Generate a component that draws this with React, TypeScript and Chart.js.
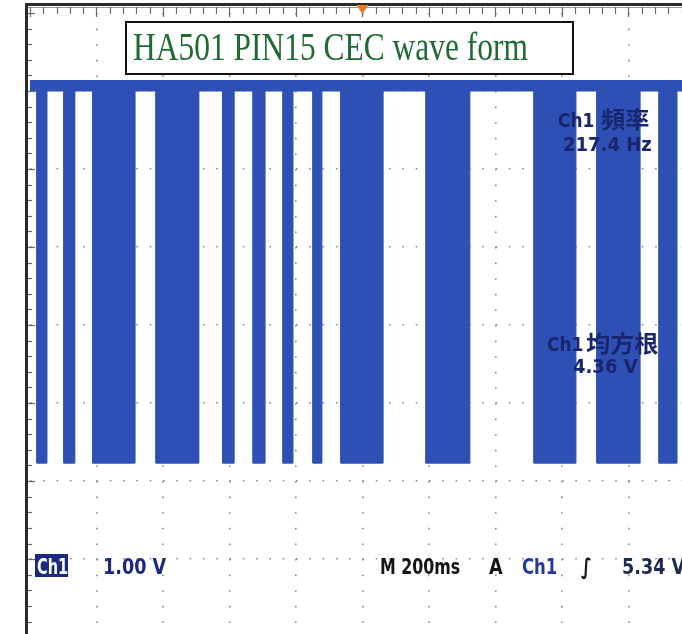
import React, { useEffect, useRef } from "react";
import { Chart, registerables } from "chart.js";

Chart.register(...registerables);

// ---- data (time in ms, level in volts relative to screen centre) ----
const timeMaxMs = 1961;
const divisionMs = 200;
const burstStartMs = [21, 102, 189, 379, 580, 671, 761, 851, 935, 1191, 1516, 1705, 1892];
const burstEndMs = [51, 135, 316, 508, 614, 707, 791, 878, 1062, 1323, 1642, 1835, 1946];
const highLevelV = 3.14;
const idleLowV = 3.0;
const burstLowV = -1.77;
const yTopV = 4;
const yBottomV = -3.96;
const triggerMs = 1000;

const titleText = "HA501 PIN15 CEC wave form";
const freqName = "頻率";
const freqValue = "217.4 Hz";
const rmsName = "均方根";
const rmsValue = "4.36 V";
const chScale = "1.00 V";
const timeBase = "M 200ms";
const trigMode = "A";
const trigSource = "Ch1";
const trigLevel = "5.34 V";

const BLUE = "#2E50B4";

function buildWave() {
  const pts: { x: number; y: number }[] = [{ x: 0, y: idleLowV }];
  burstStartMs.forEach((s, i) => {
    const e = burstEndMs[i];
    pts.push({ x: s, y: idleLowV }, { x: s, y: burstLowV }, { x: e, y: burstLowV }, { x: e, y: idleLowV });
  });
  pts.push({ x: timeMaxMs, y: idleLowV });
  return pts;
}

function txt(ctx: CanvasRenderingContext2D, s: string, x: number, y: number, font: string, color: string, sx = 1) {
  ctx.save();
  ctx.font = font;
  ctx.fillStyle = color;
  ctx.textBaseline = "alphabetic";
  ctx.textAlign = "left";
  ctx.translate(x, y);
  ctx.scale(sx, 1);
  ctx.fillText(s, 0, 0);
  ctx.restore();
}

const overlay = {
  id: "scopeOverlay",
  afterDraw(chart: any) {
    const ctx: CanvasRenderingContext2D = chart.ctx;
    const xs = chart.scales.x;
    const ys = chart.scales.y;
    const W = chart.width;
    const H = chart.height;
    ctx.save();
    // top border & ruler
    ctx.fillStyle = "#2a2a2a";
    ctx.fillRect(25, 3, W - 25, 3);
    ctx.fillStyle = "#9a9a9a";
    ctx.fillRect(28, 7, W - 28, 1);
    ctx.strokeStyle = "#6a6a6a";
    ctx.lineWidth = 1.2;
    for (let i = 0; ; i++) {
      const px = xs.getPixelForValue(i * (divisionMs / 5));
      if (px > W) break;
      ctx.beginPath();
      ctx.moveTo(Math.round(px) + 0.5, 7);
      ctx.lineTo(Math.round(px) + 0.5, i % 5 === 0 ? 17 : 14);
      ctx.stroke();
    }
    // left border & ruler
    ctx.fillStyle = "#2a2a2a";
    ctx.fillRect(25, 3, 3, H - 3);
    for (let i = 0; ; i++) {
      const py = ys.getPixelForValue(yTopV - i * 0.2);
      if (py > H) break;
      ctx.beginPath();
      ctx.moveTo(28, Math.round(py) + 0.5);
      ctx.lineTo(i % 5 === 0 ? 35 : 32, Math.round(py) + 0.5);
      ctx.stroke();
    }
    // trigger position marker
    const tx = xs.getPixelForValue(triggerMs);
    ctx.fillStyle = "#E8782A";
    ctx.beginPath();
    ctx.moveTo(tx - 6, 5);
    ctx.lineTo(tx + 6, 5);
    ctx.lineTo(tx, 14);
    ctx.closePath();
    ctx.fill();

    // title box
    ctx.fillStyle = "#ffffff";
    ctx.fillRect(126, 22, 447, 52);
    ctx.strokeStyle = "#111";
    ctx.lineWidth = 2;
    ctx.strokeRect(126, 22, 447, 52);
    const tFont = "40px 'Liberation Serif', 'DejaVu Serif', serif";
    ctx.font = tFont;
    const w = ctx.measureText(titleText).width;
    txt(ctx, titleText, 133, 60, tFont, "#1E6B33", 395 / w);

    // measurement readouts
    const lFont = "bold 20px 'DejaVu Sans', sans-serif";
    const cFont = "bold 23px 'Noto Sans CJK TC', 'Noto Sans CJK SC', sans-serif";
    const mColor = "#18266E";
    txt(ctx, "Ch1", 558, 127, lFont, mColor, 0.85);
    txt(ctx, freqName, 601, 128, cFont, mColor, 1.05);
    txt(ctx, freqValue, 563, 151, lFont, mColor, 0.9);
    txt(ctx, "Ch1", 547, 351, lFont, mColor, 0.85);
    txt(ctx, rmsName, 586, 352, cFont, mColor, 1.05);
    txt(ctx, rmsValue, 573, 373, lFont, mColor, 0.9);

    // bottom status line
    const bFont = "bold 22px 'DejaVu Sans', sans-serif";
    const base = 574;
    ctx.fillStyle = "#1B2A80";
    ctx.fillRect(35, 554, 33, 23);
    txt(ctx, "Ch1", 37, base, bFont, "#ffffff", 0.66);
    txt(ctx, chScale, 103, base, bFont, "#1B2A80", 0.8);
    txt(ctx, timeBase, 380, base, bFont, "#151515", 0.72);
    txt(ctx, trigMode, 489, base, bFont, "#151515", 0.8);
    txt(ctx, trigSource, 522, base, bFont, "#23399B", 0.75);
    txt(ctx, "∫", 581, base, "bold italic 22px 'DejaVu Sans', sans-serif", "#151515", 0.8);
    txt(ctx, trigLevel, 622, base, bFont, "#1B2A50", 0.8);
    ctx.restore();
  },
};

export default function App() {
  const ref = useRef<HTMLCanvasElement | null>(null);
  useEffect(() => {
    if (!ref.current) return;
    const chart = new Chart(ref.current, {
      type: "line",
      data: {
        datasets: [
          {
            data: buildWave(),
            parsing: false as any,
            borderColor: BLUE,
            borderWidth: 1,
            backgroundColor: BLUE,
            pointRadius: 0,
            fill: { value: highLevelV } as any,
            tension: 0,
          },
        ],
      },
      options: {
        animation: false,
        responsive: false,
        maintainAspectRatio: false,
        layout: { padding: { left: 30, top: 13, right: 0, bottom: 0 } },
        plugins: { legend: { display: false }, tooltip: { enabled: false }, title: { display: false } },
        scales: {
          x: {
            type: "linear",
            min: 0,
            max: timeMaxMs,
            ticks: { display: false, stepSize: divisionMs },
            afterBuildTicks: (s: any) => {
              const t = [];
              for (let v = divisionMs; v < timeMaxMs; v += divisionMs) t.push({ value: v });
              s.ticks = t;
            },
            grid: { color: "#8a8a8a", lineWidth: 1.6, drawTicks: false },
            border: { display: false, dash: [1.6, 14.0] },
          },
          y: {
            type: "linear",
            min: yBottomV,
            max: yTopV,
            ticks: { display: false, stepSize: 1 },
            afterBuildTicks: (s: any) => {
              const t = [];
              for (let v = -3; v <= 3; v++) t.push({ value: v });
              s.ticks = t;
            },
            grid: { color: "#8a8a8a", lineWidth: 1.6, drawTicks: false },
            border: { display: false, dash: [1.6, 11.7] },
          },
        },
      },
      plugins: [overlay],
    });
    return () => chart.destroy();
  }, []);
  return (
    <div style={{ position: "fixed", left: 0, top: 0, width: 682, height: 634, background: "#fff" }}>
      <canvas ref={ref} width={682} height={634} style={{ display: "block" }} />
    </div>
  );
}
